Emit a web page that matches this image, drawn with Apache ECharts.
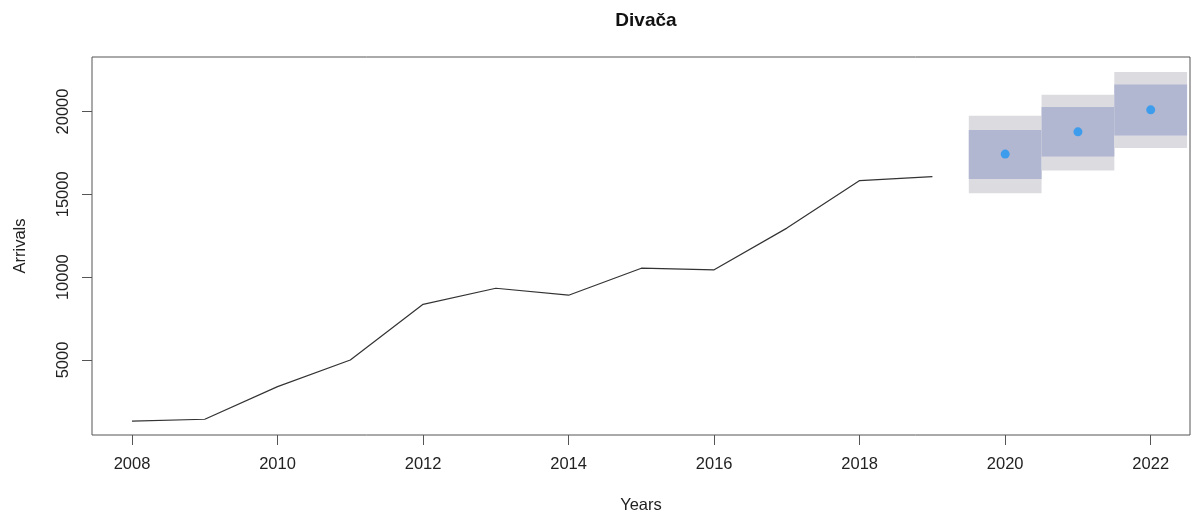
<!DOCTYPE html>
<html>
<head>
<meta charset="utf-8">
<script src="https://cdn.jsdelivr.net/npm/echarts@6/dist/echarts.min.js"></script>
<style>
  html, body { margin: 0; padding: 0; background: #fff; }
  #chart { width: 1197px; height: 519px; }
</style>
</head>
<body>
<div id="chart"></div>
<script>
  // history
  var years = [2008, 2009, 2010, 2011, 2012, 2013, 2014, 2015, 2016, 2017, 2018, 2019];
  var arrivals = [1310, 1420, 3390, 5000, 8360, 9330, 8910, 10540, 10440, 12960, 15830, 16070];

  // forecast
  var fcYears = [2020, 2021, 2022];
  var fcMean = [17430, 18770, 20100];
  var lo80 = [15930, 17280, 18550];
  var hi80 = [18890, 20270, 21630];
  var lo95 = [15070, 16440, 17790];
  var hi95 = [19740, 21010, 22380];

  var xTicks = [2008, 2010, 2012, 2014, 2016, 2018, 2020, 2022];
  var yTicks = [5000, 10000, 15000, 20000];

  var font = 'Liberation Sans, Arial, sans-serif';
  var chart = echarts.init(document.getElementById('chart'));

  var lineData = years.map(function (y, i) { return [y, arrivals[i]]; });
  var meanData = fcYears.map(function (y, i) { return [y, fcMean[i]]; });
  var bandData = fcYears.map(function (y, i) { return [y, lo95[i], hi95[i], lo80[i], hi80[i]]; });

  function plain(v) { return String(Math.round(v)); }

  function renderBand(params, api) {
    var x = api.value(0);
    var a = api.coord([x - 0.5, api.value(2)]);
    var b = api.coord([x + 0.5, api.value(1)]);
    var c = api.coord([x - 0.5, api.value(4)]);
    var d = api.coord([x + 0.5, api.value(3)]);
    return {
      type: 'group',
      children: [
        { type: 'rect', shape: { x: a[0], y: a[1], width: b[0] - a[0], height: b[1] - a[1] },
          style: { fill: '#dbdbe0' } },
        { type: 'rect', shape: { x: c[0], y: c[1], width: d[0] - c[0], height: d[1] - c[1] },
          style: { fill: '#b1b6d1' } }
      ]
    };
  }

  chart.setOption({
    animation: false,
    backgroundColor: '#fff',
    title: {
      text: 'Divača',
      left: 641, top: 6, textAlign: 'center',
      textStyle: { fontFamily: font, fontSize: 19, fontWeight: 'bold', color: '#111' }
    },
    grid: {
      left: 92, right: 7, top: 57, bottom: 84,
      show: true, borderColor: '#555', borderWidth: 1, backgroundColor: 'transparent'
    },
    xAxis: {
      type: 'value', min: 2007.45, max: 2022.54,
      name: 'Years', nameLocation: 'middle', nameGap: 62,
      nameTextStyle: { fontFamily: font, fontSize: 16.5, color: '#222' },
      splitLine: { show: false },
      axisLine: { show: false },
      axisTick: { show: true, inside: false, length: 10, lineStyle: { color: '#555' }, customValues: xTicks },
      axisLabel: { margin: 21, fontFamily: font, fontSize: 16.5, color: '#222', customValues: xTicks, formatter: plain }
    },
    yAxis: {
      type: 'value', min: 470, max: 23290,
      name: 'Arrivals', nameLocation: 'middle', nameGap: 63, nameRotate: 90,
      nameTextStyle: { fontFamily: font, fontSize: 16.5, color: '#222' },
      splitLine: { show: false },
      axisLine: { show: false },
      axisTick: { show: true, inside: false, length: 10, lineStyle: { color: '#555' }, customValues: yTicks },
      axisLabel: { margin: 20, rotate: 90, fontFamily: font, fontSize: 16.5, color: '#222', customValues: yTicks, formatter: plain }
    },
    series: [
      { type: 'custom', renderItem: renderBand, data: bandData, clip: true, z: 1,
        encode: { x: 0, y: [1, 2] } },
      { type: 'line', data: lineData, symbol: 'none', z: 3,
        lineStyle: { color: '#333', width: 1.2 } },
      { type: 'scatter', data: meanData, symbolSize: 9, z: 4,
        itemStyle: { color: '#2196f3' } }
    ]
  });
</script>
</body>
</html>
